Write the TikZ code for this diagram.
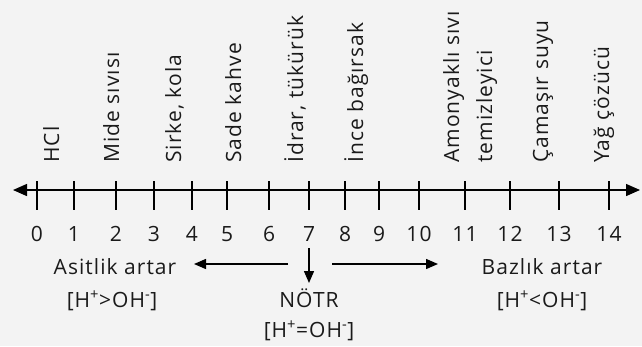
\documentclass[tikz,border=0pt]{standalone}
\usepackage{fontspec}
\setmainfont[LetterSpace=5]{Open Sans}
\usetikzlibrary{arrows.meta}
\definecolor{bg}{HTML}{F3F3F3}
\definecolor{ink}{HTML}{1A1A1A}
\tikzset{
  lbl/.style={font=\fontsize{21}{23}\selectfont, text=ink, inner sep=0pt},
  rlbl/.style={lbl, rotate=90, anchor=base west},
  num/.style={lbl, anchor=base},
  tickline/.style={line width=1.4pt, draw=black},
  bigtip/.style={line width=1.4pt, draw=black, {Triangle[length=14pt,width=12pt]}-{Triangle[length=14pt,width=12pt]}},
  smalltip/.style={line width=1.4pt, draw=black, -{Triangle[length=12pt,width=10pt]}}
}
\begin{document}
\begin{tikzpicture}[x=1pt,y=-1pt]
\fill[bg] (0,0) rectangle (642,346);
\useasboundingbox (0,0) rectangle (642,346);
% axis
\coordinate (axL) at (13,190);
\coordinate (axR) at (640,190);
\draw[bigtip] (axL) -- (axR);
% ticks and numbers
\foreach \n/\x in {0/37,1/74,2/116,3/154,4/192,5/227,6/269,7/309,8/345,9/379,10/419,11/465,12/510,13/559,14/609}{
  \coordinate (ta\n) at (\x,181);
  \coordinate (tb\n) at (\x,210);
  \draw[tickline] (ta\n) -- (tb\n);
  \node[num] (n\n) at (\x,241) {\n};
}
% rotated labels
\node[rlbl] (hcl) at (59,163) {HCl};
\node[rlbl] (mide) at (119,163) {Mide sıvısı};
\node[rlbl] (sirke) at (181,163) {Sirke, kola};
\node[rlbl] (kahve) at (241,163) {Sade kahve};
\node[rlbl] (idrar) at (303,163) {İdrar, tükürük};
\node[rlbl] (ince) at (363,163) {İnce bağırsak};
\node[rlbl] (amon) at (459,163) {Amonyaklı sıvı};
\node[rlbl] (temiz) at (492,163) {temizleyici};
\node[rlbl] (camas) at (548,163) {Çamaşır suyu};
\node[rlbl] (yag) at (609,163) {Yağ çözücü};
% bottom labels
\node[num] (asit) at (115,274) {Asitlik artar};
\node[num] (asitf) at (112,307) {[H\textsuperscript{+}>OH\textsuperscript{-}]};
\node[num] (notr) at (309,307) {NÖTR};
\node[num] (notrf) at (309,337) {[H\textsuperscript{+}=OH\textsuperscript{-}]};
\node[num] (baz) at (542,274) {Bazlık artar};
\node[num] (bazf) at (542,307) {[H\textsuperscript{+}<OH\textsuperscript{-}]};
% arrows
\coordinate (mL0) at (288,264);
\coordinate (mL1) at (194,264);
\coordinate (mR0) at (332,264);
\coordinate (mR1) at (438,264);
\coordinate (mD0) at (309,248);
\coordinate (mD1) at (309,283);
\draw[smalltip] (mL0) -- (mL1);
\draw[smalltip] (mR0) -- (mR1);
\draw[smalltip] (mD0) -- (mD1);
\end{tikzpicture}
\end{document}
